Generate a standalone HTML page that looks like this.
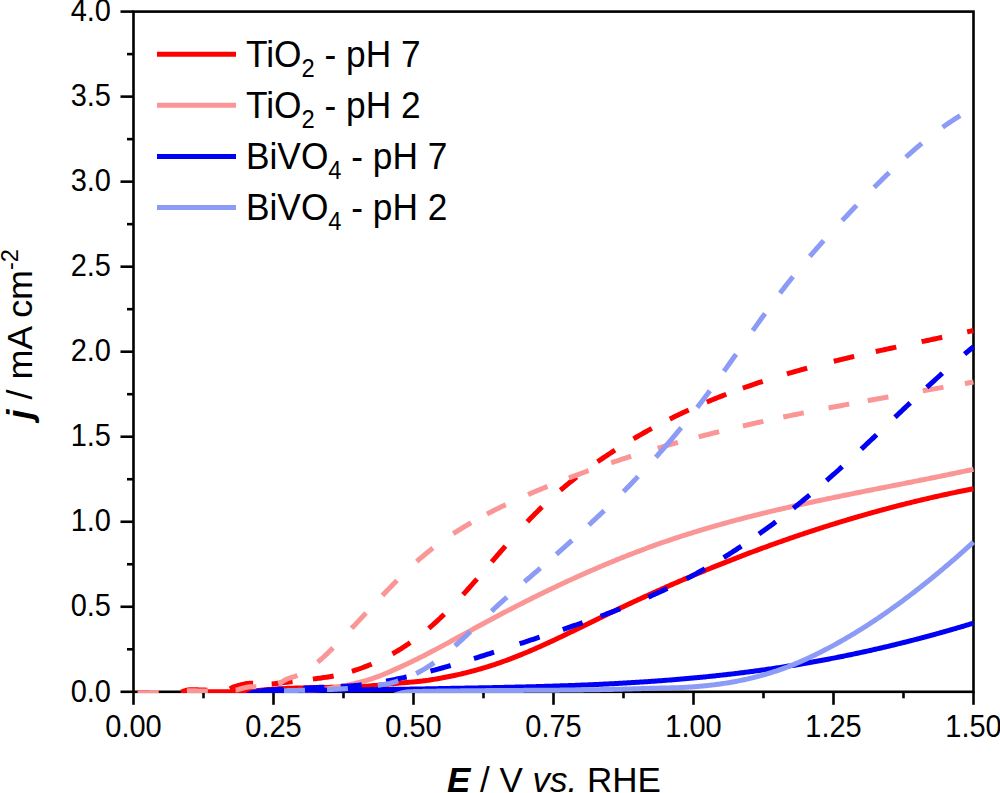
<!DOCTYPE html>
<html><head><meta charset="utf-8"><style>
html,body{margin:0;padding:0;background:#fff;width:1000px;height:793px;overflow:hidden}
svg{display:block;font-family:"Liberation Sans",sans-serif}
</style></head><body>
<svg width="1000" height="793" viewBox="0 0 1000 793">
<rect x="133.5" y="11.6" width="840.0" height="680.1999999999999" fill="none" stroke="#000" stroke-width="2.6"/>
<line x1="120.5" y1="691.80" x2="133.5" y2="691.80" stroke="#000" stroke-width="2.6"/>
<line x1="127.0" y1="649.29" x2="133.5" y2="649.29" stroke="#000" stroke-width="2.6"/>
<line x1="120.5" y1="606.77" x2="133.5" y2="606.77" stroke="#000" stroke-width="2.6"/>
<line x1="127.0" y1="564.26" x2="133.5" y2="564.26" stroke="#000" stroke-width="2.6"/>
<line x1="120.5" y1="521.75" x2="133.5" y2="521.75" stroke="#000" stroke-width="2.6"/>
<line x1="127.0" y1="479.24" x2="133.5" y2="479.24" stroke="#000" stroke-width="2.6"/>
<line x1="120.5" y1="436.72" x2="133.5" y2="436.72" stroke="#000" stroke-width="2.6"/>
<line x1="127.0" y1="394.21" x2="133.5" y2="394.21" stroke="#000" stroke-width="2.6"/>
<line x1="120.5" y1="351.70" x2="133.5" y2="351.70" stroke="#000" stroke-width="2.6"/>
<line x1="127.0" y1="309.19" x2="133.5" y2="309.19" stroke="#000" stroke-width="2.6"/>
<line x1="120.5" y1="266.68" x2="133.5" y2="266.68" stroke="#000" stroke-width="2.6"/>
<line x1="127.0" y1="224.16" x2="133.5" y2="224.16" stroke="#000" stroke-width="2.6"/>
<line x1="120.5" y1="181.65" x2="133.5" y2="181.65" stroke="#000" stroke-width="2.6"/>
<line x1="127.0" y1="139.14" x2="133.5" y2="139.14" stroke="#000" stroke-width="2.6"/>
<line x1="120.5" y1="96.62" x2="133.5" y2="96.62" stroke="#000" stroke-width="2.6"/>
<line x1="127.0" y1="54.11" x2="133.5" y2="54.11" stroke="#000" stroke-width="2.6"/>
<line x1="120.5" y1="11.60" x2="133.5" y2="11.60" stroke="#000" stroke-width="2.6"/>
<line x1="133.50" y1="691.8" x2="133.50" y2="704.8" stroke="#000" stroke-width="2.6"/>
<line x1="203.50" y1="691.8" x2="203.50" y2="698.3" stroke="#000" stroke-width="2.6"/>
<line x1="273.50" y1="691.8" x2="273.50" y2="704.8" stroke="#000" stroke-width="2.6"/>
<line x1="343.50" y1="691.8" x2="343.50" y2="698.3" stroke="#000" stroke-width="2.6"/>
<line x1="413.50" y1="691.8" x2="413.50" y2="704.8" stroke="#000" stroke-width="2.6"/>
<line x1="483.50" y1="691.8" x2="483.50" y2="698.3" stroke="#000" stroke-width="2.6"/>
<line x1="553.50" y1="691.8" x2="553.50" y2="704.8" stroke="#000" stroke-width="2.6"/>
<line x1="623.50" y1="691.8" x2="623.50" y2="698.3" stroke="#000" stroke-width="2.6"/>
<line x1="693.50" y1="691.8" x2="693.50" y2="704.8" stroke="#000" stroke-width="2.6"/>
<line x1="763.50" y1="691.8" x2="763.50" y2="698.3" stroke="#000" stroke-width="2.6"/>
<line x1="833.50" y1="691.8" x2="833.50" y2="704.8" stroke="#000" stroke-width="2.6"/>
<line x1="903.50" y1="691.8" x2="903.50" y2="698.3" stroke="#000" stroke-width="2.6"/>
<line x1="973.50" y1="691.8" x2="973.50" y2="704.8" stroke="#000" stroke-width="2.6"/>
<text transform="translate(111.0 701.50) scale(1 1.075)" text-anchor="end" font-size="29">0.0</text>
<text transform="translate(111.0 616.48) scale(1 1.075)" text-anchor="end" font-size="29">0.5</text>
<text transform="translate(111.0 531.45) scale(1 1.075)" text-anchor="end" font-size="29">1.0</text>
<text transform="translate(111.0 446.42) scale(1 1.075)" text-anchor="end" font-size="29">1.5</text>
<text transform="translate(111.0 361.40) scale(1 1.075)" text-anchor="end" font-size="29">2.0</text>
<text transform="translate(111.0 276.38) scale(1 1.075)" text-anchor="end" font-size="29">2.5</text>
<text transform="translate(111.0 191.35) scale(1 1.075)" text-anchor="end" font-size="29">3.0</text>
<text transform="translate(111.0 106.33) scale(1 1.075)" text-anchor="end" font-size="29">3.5</text>
<text transform="translate(111.0 21.30) scale(1 1.075)" text-anchor="end" font-size="29">4.0</text>
<text transform="translate(133.50 737) scale(1 1.075)" text-anchor="middle" font-size="29">0.00</text>
<text transform="translate(273.50 737) scale(1 1.075)" text-anchor="middle" font-size="29">0.25</text>
<text transform="translate(413.50 737) scale(1 1.075)" text-anchor="middle" font-size="29">0.50</text>
<text transform="translate(553.50 737) scale(1 1.075)" text-anchor="middle" font-size="29">0.75</text>
<text transform="translate(693.50 737) scale(1 1.075)" text-anchor="middle" font-size="29">1.00</text>
<text transform="translate(833.50 737) scale(1 1.075)" text-anchor="middle" font-size="29">1.25</text>
<text transform="translate(973.50 737) scale(1 1.075)" text-anchor="middle" font-size="29">1.50</text>
<clipPath id="cp"><rect x="133.5" y="11.6" width="841.3" height="681.4999999999999"/></clipPath><g clip-path="url(#cp)">
<path d="M207.98 691.80 L209.26 691.80 L210.53 691.80 L211.81 691.80 L213.08 691.79 L214.36 691.79 L215.64 691.79 L216.91 691.78 L218.19 691.77 L219.46 691.77 L220.74 691.76 L222.01 691.75 L223.29 691.74 L224.57 691.73 L225.84 691.72 L227.12 691.71 L228.39 691.70 L229.67 691.68 L230.95 691.67 L232.22 691.65 L233.50 691.64 L234.77 691.62 L236.05 691.61 L237.32 691.59 L238.60 691.57 L239.88 691.55 L241.15 691.53 L242.43 691.51 L243.70 691.49 L244.98 691.47 L246.26 691.44 L247.53 691.40 L248.81 691.34 L250.08 691.26 L251.36 691.17 L252.64 691.06 L253.91 690.95 L255.19 690.83 L256.46 690.70 L257.74 690.56 L259.01 690.43 L260.29 690.29 L261.57 690.16 L262.84 690.03 L264.12 689.91 L265.39 689.79 L266.67 689.68 L267.95 689.59 L269.22 689.50 L270.50 689.40 L271.77 689.31 L273.05 689.22 L274.33 689.13 L275.60 689.04 L276.88 688.95 L278.15 688.87 L279.43 688.78 L280.70 688.70 L281.98 688.63 L283.26 688.55 L284.53 688.48 L285.81 688.42 L287.08 688.36 L288.36 688.30 L289.64 688.25 L290.91 688.21 L292.19 688.17 L293.46 688.13 L294.74 688.09 L296.01 688.06 L297.29 688.02 L298.57 687.99 L299.84 687.96 L301.12 687.93 L302.39 687.91 L303.67 687.88 L304.95 687.85 L306.22 687.83 L307.50 687.80 L308.77 687.78 L310.05 687.76 L311.33 687.73 L312.60 687.71 L313.88 687.69 L315.15 687.67 L316.43 687.64 L317.70 687.62 L318.98 687.60 L320.26 687.57 L321.53 687.55 L322.81 687.52 L324.08 687.50 L325.36 687.47 L326.64 687.44 L327.91 687.42 L329.19 687.39 L330.46 687.36 L331.74 687.33 L333.01 687.30 L334.29 687.27 L335.57 687.24 L336.84 687.21 L338.12 687.18 L339.39 687.16 L340.67 687.13 L341.95 687.10 L343.22 687.07 L344.50 687.04 L345.77 687.01 L347.05 686.98 L348.33 686.95 L349.60 686.91 L350.88 686.88 L352.15 686.84 L353.43 686.80 L354.70 686.76 L355.98 686.72 L357.26 686.67 L358.53 686.63 L359.81 686.58 L361.08 686.53 L362.36 686.47 L363.64 686.40 L364.91 686.32 L366.19 686.24 L367.46 686.15 L368.74 686.05 L370.02 685.95 L371.29 685.84 L372.57 685.72 L373.84 685.61 L375.12 685.49 L376.39 685.37 L377.67 685.25 L378.95 685.12 L380.22 685.00 L381.50 684.88 L382.77 684.76 L384.05 684.63 L385.33 684.51 L386.60 684.38 L387.88 684.25 L389.15 684.12 L390.43 683.99 L391.70 683.86 L392.98 683.73 L394.26 683.60 L395.53 683.48 L396.81 683.35 L398.08 683.23 L399.36 683.11 L400.64 683.00 L401.91 682.88 L403.19 682.77 L404.46 682.66 L405.74 682.55 L407.02 682.45 L408.29 682.34 L409.57 682.23 L410.84 682.12 L412.12 682.01 L413.39 681.90 L414.67 681.78 L415.95 681.66 L417.22 681.54 L418.50 681.41 L419.77 681.28 L421.05 681.14 L422.33 681.00 L423.60 680.85 L424.88 680.70 L426.15 680.53 L427.43 680.36 L428.70 680.18 L429.98 679.99 L431.26 679.79 L432.53 679.58 L433.81 679.38 L435.08 679.16 L436.36 678.95 L437.64 678.73 L438.91 678.50 L440.19 678.27 L441.46 678.04 L442.74 677.81 L444.02 677.57 L445.29 677.32 L446.57 677.07 L447.84 676.82 L449.12 676.56 L450.39 676.30 L451.67 676.04 L452.95 675.77 L454.22 675.49 L455.50 675.22 L456.77 674.93 L458.05 674.65 L459.33 674.36 L460.60 674.06 L461.88 673.76 L463.15 673.46 L464.43 673.15 L465.71 672.83 L466.98 672.52 L468.26 672.19 L469.53 671.87 L470.81 671.53 L472.08 671.20 L473.36 670.86 L474.64 670.51 L475.91 670.16 L477.19 669.81 L478.46 669.45 L479.74 669.08 L481.02 668.72 L482.29 668.34 L483.57 667.96 L484.84 667.58 L486.12 667.19 L487.39 666.80 L488.67 666.40 L489.95 666.00 L491.22 665.59 L492.50 665.18 L493.77 664.76 L495.05 664.34 L496.33 663.91 L497.60 663.48 L498.88 663.04 L500.15 662.59 L501.43 662.15 L502.71 661.69 L503.98 661.23 L505.26 660.77 L506.53 660.30 L507.81 659.83 L509.08 659.35 L510.36 658.87 L511.64 658.38 L512.91 657.89 L514.19 657.40 L515.46 656.90 L516.74 656.39 L518.02 655.89 L519.29 655.37 L520.57 654.86 L521.84 654.34 L523.12 653.81 L524.39 653.29 L525.67 652.75 L526.95 652.22 L528.22 651.68 L529.50 651.14 L530.77 650.59 L532.05 650.04 L533.33 649.49 L534.60 648.93 L535.88 648.37 L537.15 647.81 L538.43 647.25 L539.71 646.68 L540.98 646.11 L542.26 645.54 L543.53 644.96 L544.81 644.38 L546.08 643.80 L547.36 643.22 L548.64 642.63 L549.91 642.04 L551.19 641.45 L552.46 640.86 L553.74 640.26 L555.02 639.66 L556.29 639.06 L557.57 638.46 L558.84 637.86 L560.12 637.26 L561.40 636.65 L562.67 636.04 L563.95 635.43 L565.22 634.82 L566.50 634.21 L567.77 633.59 L569.05 632.98 L570.33 632.36 L571.60 631.75 L572.88 631.13 L574.15 630.51 L575.43 629.89 L576.71 629.27 L577.98 628.65 L579.26 628.02 L580.53 627.40 L581.81 626.78 L583.08 626.15 L584.36 625.53 L585.64 624.90 L586.91 624.28 L588.19 623.65 L589.46 623.03 L590.74 622.40 L592.02 621.78 L593.29 621.16 L594.57 620.53 L595.84 619.91 L597.12 619.28 L598.40 618.66 L599.67 618.04 L600.95 617.41 L602.22 616.79 L603.50 616.17 L604.77 615.55 L606.05 614.93 L607.33 614.31 L608.60 613.70 L609.88 613.08 L611.15 612.47 L612.43 611.85 L613.71 611.24 L614.98 610.63 L616.26 610.02 L617.53 609.41 L618.81 608.80 L620.08 608.20 L621.36 607.59 L622.64 606.99 L623.91 606.38 L625.19 605.78 L626.46 605.18 L627.74 604.58 L629.02 603.98 L630.29 603.39 L631.57 602.79 L632.84 602.19 L634.12 601.60 L635.40 601.01 L636.67 600.42 L637.95 599.83 L639.22 599.24 L640.50 598.65 L641.77 598.07 L643.05 597.48 L644.33 596.90 L645.60 596.31 L646.88 595.73 L648.15 595.15 L649.43 594.57 L650.71 593.99 L651.98 593.42 L653.26 592.84 L654.53 592.27 L655.81 591.70 L657.09 591.12 L658.36 590.55 L659.64 589.98 L660.91 589.42 L662.19 588.85 L663.46 588.28 L664.74 587.72 L666.02 587.15 L667.29 586.59 L668.57 586.03 L669.84 585.47 L671.12 584.91 L672.40 584.36 L673.67 583.80 L674.95 583.25 L676.22 582.69 L677.50 582.14 L678.77 581.59 L680.05 581.04 L681.33 580.49 L682.60 579.94 L683.88 579.40 L685.15 578.85 L686.43 578.31 L687.71 577.77 L688.98 577.22 L690.26 576.68 L691.53 576.15 L692.81 575.61 L694.09 575.07 L695.36 574.54 L696.64 574.00 L697.91 573.47 L699.19 572.94 L700.46 572.41 L701.74 571.88 L703.02 571.35 L704.29 570.82 L705.57 570.30 L706.84 569.78 L708.12 569.25 L709.40 568.73 L710.67 568.21 L711.95 567.69 L713.22 567.17 L714.50 566.66 L715.77 566.14 L717.05 565.63 L718.33 565.12 L719.60 564.60 L720.88 564.09 L722.15 563.58 L723.43 563.08 L724.71 562.57 L725.98 562.07 L727.26 561.56 L728.53 561.06 L729.81 560.56 L731.09 560.06 L732.36 559.56 L733.64 559.06 L734.91 558.56 L736.19 558.07 L737.46 557.57 L738.74 557.08 L740.02 556.59 L741.29 556.10 L742.57 555.61 L743.84 555.12 L745.12 554.64 L746.40 554.15 L747.67 553.67 L748.95 553.19 L750.22 552.70 L751.50 552.22 L752.78 551.75 L754.05 551.27 L755.33 550.79 L756.60 550.32 L757.88 549.84 L759.15 549.37 L760.43 548.90 L761.71 548.43 L762.98 547.96 L764.26 547.49 L765.53 547.03 L766.81 546.56 L768.09 546.10 L769.36 545.64 L770.64 545.18 L771.91 544.72 L773.19 544.26 L774.46 543.80 L775.74 543.35 L777.02 542.89 L778.29 542.44 L779.57 541.99 L780.84 541.54 L782.12 541.09 L783.40 540.64 L784.67 540.19 L785.95 539.75 L787.22 539.30 L788.50 538.86 L789.78 538.42 L791.05 537.98 L792.33 537.54 L793.60 537.10 L794.88 536.67 L796.15 536.23 L797.43 535.80 L798.71 535.36 L799.98 534.93 L801.26 534.50 L802.53 534.07 L803.81 533.65 L805.09 533.22 L806.36 532.80 L807.64 532.37 L808.91 531.95 L810.19 531.53 L811.46 531.11 L812.74 530.69 L814.02 530.28 L815.29 529.86 L816.57 529.45 L817.84 529.03 L819.12 528.62 L820.40 528.21 L821.67 527.80 L822.95 527.40 L824.22 526.99 L825.50 526.58 L826.78 526.18 L828.05 525.78 L829.33 525.38 L830.60 524.98 L831.88 524.58 L833.15 524.18 L834.43 523.79 L835.71 523.39 L836.98 523.00 L838.26 522.61 L839.53 522.22 L840.81 521.83 L842.09 521.44 L843.36 521.05 L844.64 520.67 L845.91 520.28 L847.19 519.90 L848.47 519.52 L849.74 519.14 L851.02 518.76 L852.29 518.38 L853.57 518.01 L854.84 517.63 L856.12 517.26 L857.40 516.89 L858.67 516.52 L859.95 516.15 L861.22 515.78 L862.50 515.42 L863.78 515.05 L865.05 514.69 L866.33 514.32 L867.60 513.96 L868.88 513.60 L870.15 513.24 L871.43 512.89 L872.71 512.53 L873.98 512.18 L875.26 511.82 L876.53 511.47 L877.81 511.12 L879.09 510.77 L880.36 510.43 L881.64 510.08 L882.91 509.73 L884.19 509.39 L885.47 509.05 L886.74 508.71 L888.02 508.37 L889.29 508.03 L890.57 507.69 L891.84 507.36 L893.12 507.02 L894.40 506.69 L895.67 506.36 L896.95 506.03 L898.22 505.70 L899.50 505.37 L900.78 505.05 L902.05 504.72 L903.33 504.40 L904.60 504.08 L905.88 503.76 L907.15 503.44 L908.43 503.12 L909.71 502.81 L910.98 502.49 L912.26 502.18 L913.53 501.86 L914.81 501.55 L916.09 501.24 L917.36 500.94 L918.64 500.63 L919.91 500.32 L921.19 500.02 L922.47 499.72 L923.74 499.42 L925.02 499.12 L926.29 498.82 L927.57 498.52 L928.84 498.22 L930.12 497.93 L931.40 497.64 L932.67 497.35 L933.95 497.06 L935.22 496.77 L936.50 496.48 L937.78 496.19 L939.05 495.91 L940.33 495.63 L941.60 495.34 L942.88 495.06 L944.16 494.78 L945.43 494.51 L946.71 494.23 L947.98 493.96 L949.26 493.68 L950.53 493.41 L951.81 493.14 L953.09 492.87 L954.36 492.60 L955.64 492.34 L956.91 492.07 L958.19 491.81 L959.47 491.54 L960.74 491.28 L962.02 491.02 L963.29 490.77 L964.57 490.51 L965.84 490.25 L967.12 490.00 L968.40 489.75 L969.67 489.50 L970.95 489.25 L972.22 489.00 L973.50 488.75" fill="none" stroke="#ff0000" stroke-width="5"/>
<path d="M133.50 696.90 L134.90 696.90 L136.30 696.90 L137.70 696.90 L139.10 696.90 L140.50 696.90 L141.90 696.90 L143.30 696.90 L144.70 696.90 L146.10 696.90 L147.50 696.90 L148.90 696.90 L150.30 696.90 L151.70 696.90 L153.10 696.90 L154.50 696.90 L155.90 696.90 L157.30 696.90 L158.70 696.90 L160.10 696.90 L161.50 696.90 L162.90 696.90 L164.30 696.90 L165.70 696.90 L167.10 696.90 L168.50 696.90 L169.90 696.90 L171.30 696.90 L172.70 696.90 L174.10 696.90 L175.50 696.90 L176.90 696.90 L178.30 696.90 L179.70 696.90 L181.10 696.90 L182.50 696.90 L183.90 696.90 L185.30 696.90 L186.70 696.90 L188.10 696.90 L189.50 696.90 L190.90 696.90 L192.30 696.90 L193.70 696.90 L195.10 696.90 L196.50 696.90 L197.90 696.90 L199.30 696.90 L200.70 696.90 L202.10 696.90 L203.50 696.90 L204.90 696.90 L206.30 696.90 L207.70 696.90 L209.10 696.90 L210.50 696.90 L211.90 696.90 L213.30 696.90 L214.70 696.90 L216.10 696.90 L217.50 696.90 L218.90 696.90 L220.30 696.90 L221.70 696.90 L223.10 696.90 L224.50 696.90 L225.90 696.90 L227.30 696.90 L228.70 696.90 L230.10 696.90 L231.50 696.90 L232.90 696.90 L234.30 696.90 L235.70 696.90 L237.10 696.90 L238.50 696.90 L239.90 696.90 L241.30 696.90 L242.70 696.90 L244.10 696.90 L245.50 696.90 L246.90 696.90 L248.30 696.90 L249.70 696.90 L251.10 696.90 L252.50 696.90 L253.90 696.90 L255.30 696.90 L256.70 696.90 L258.10 696.90 L259.50 696.90 L260.90 696.90 L262.30 696.90 L263.70 696.90 L265.10 696.90 L266.50 696.90 L267.90 696.90 L269.30 696.90 L270.70 696.90 L272.10 696.90 L273.50 696.90 L274.90 696.87 L276.30 696.80 L277.70 696.67 L279.10 696.50 L280.50 696.30 L281.90 696.06 L283.30 695.79 L284.70 695.50 L286.10 695.19 L287.50 694.86 L288.90 694.52 L290.30 694.18 L291.70 693.84 L293.10 693.50 L294.50 693.17 L295.90 692.85 L297.30 692.55 L298.70 692.27 L300.10 692.02 L301.50 691.80 L302.90 691.60 L304.30 691.41 L305.70 691.23 L307.10 691.06 L308.50 690.89 L309.90 690.73 L311.30 690.57 L312.70 690.42 L314.10 690.26 L315.50 690.11 L316.90 689.96 L318.30 689.81 L319.70 689.65 L321.10 689.49 L322.50 689.33 L323.90 689.16 L325.30 688.98 L326.70 688.80 L328.10 688.60 L329.50 688.40 L330.90 688.19 L332.30 687.97 L333.70 687.74 L335.10 687.51 L336.50 687.27 L337.90 687.02 L339.30 686.77 L340.70 686.51 L342.10 686.24 L343.50 685.97 L344.90 685.69 L346.30 685.40 L347.70 685.11 L349.10 684.81 L350.50 684.51 L351.90 684.19 L353.30 683.87 L354.70 683.55 L356.10 683.21 L357.50 682.87 L358.90 682.51 L360.30 682.14 L361.70 681.77 L363.10 681.38 L364.50 680.98 L365.90 680.57 L367.30 680.15 L368.70 679.72 L370.10 679.27 L371.50 678.82 L372.90 678.35 L374.30 677.86 L375.70 677.37 L377.10 676.86 L378.50 676.34 L379.90 675.81 L381.30 675.27 L382.70 674.71 L384.10 674.14 L385.50 673.56 L386.90 672.97 L388.30 672.37 L389.70 671.76 L391.10 671.14 L392.50 670.52 L393.90 669.90 L395.30 669.28 L396.70 668.65 L398.10 668.02 L399.50 667.38 L400.90 666.75 L402.30 666.11 L403.70 665.46 L405.10 664.81 L406.50 664.16 L407.90 663.50 L409.30 662.83 L410.70 662.16 L412.10 661.48 L413.50 660.80 L414.90 660.11 L416.30 659.42 L417.70 658.73 L419.10 658.03 L420.50 657.33 L421.90 656.62 L423.30 655.91 L424.70 655.19 L426.10 654.47 L427.50 653.75 L428.90 653.03 L430.30 652.30 L431.70 651.57 L433.10 650.83 L434.50 650.09 L435.90 649.35 L437.30 648.61 L438.70 647.87 L440.10 647.12 L441.50 646.37 L442.90 645.62 L444.30 644.86 L445.70 644.11 L447.10 643.35 L448.50 642.59 L449.90 641.83 L451.30 641.07 L452.70 640.30 L454.10 639.54 L455.50 638.77 L456.90 638.01 L458.30 637.24 L459.70 636.48 L461.10 635.71 L462.50 634.94 L463.90 634.17 L465.30 633.41 L466.70 632.64 L468.10 631.87 L469.50 631.10 L470.90 630.34 L472.30 629.57 L473.70 628.81 L475.10 628.04 L476.50 627.28 L477.90 626.52 L479.30 625.76 L480.70 625.00 L482.10 624.24 L483.50 623.49 L484.90 622.73 L486.30 621.98 L487.70 621.23 L489.10 620.48 L490.50 619.73 L491.90 618.98 L493.30 618.24 L494.70 617.49 L496.10 616.75 L497.50 616.01 L498.90 615.27 L500.30 614.54 L501.70 613.80 L503.10 613.07 L504.50 612.33 L505.90 611.60 L507.30 610.87 L508.70 610.15 L510.10 609.42 L511.50 608.70 L512.90 607.98 L514.30 607.26 L515.70 606.54 L517.10 605.82 L518.50 605.11 L519.90 604.39 L521.30 603.68 L522.70 602.97 L524.10 602.26 L525.50 601.56 L526.90 600.85 L528.30 600.15 L529.70 599.45 L531.10 598.75 L532.50 598.05 L533.90 597.36 L535.30 596.66 L536.70 595.97 L538.10 595.28 L539.50 594.59 L540.90 593.91 L542.30 593.22 L543.70 592.54 L545.10 591.86 L546.50 591.18 L547.90 590.51 L549.30 589.83 L550.70 589.16 L552.10 588.49 L553.50 587.82 L554.90 587.15 L556.30 586.49 L557.70 585.82 L559.10 585.16 L560.50 584.51 L561.90 583.85 L563.30 583.19 L564.70 582.54 L566.10 581.89 L567.50 581.24 L568.90 580.60 L570.30 579.95 L571.70 579.31 L573.10 578.67 L574.50 578.03 L575.90 577.40 L577.30 576.76 L578.70 576.13 L580.10 575.50 L581.50 574.87 L582.90 574.25 L584.30 573.63 L585.70 573.00 L587.10 572.39 L588.50 571.77 L589.90 571.16 L591.30 570.54 L592.70 569.93 L594.10 569.33 L595.50 568.72 L596.90 568.12 L598.30 567.52 L599.70 566.92 L601.10 566.32 L602.50 565.73 L603.90 565.14 L605.30 564.55 L606.70 563.96 L608.10 563.37 L609.50 562.79 L610.90 562.21 L612.30 561.63 L613.70 561.06 L615.10 560.49 L616.50 559.92 L617.90 559.35 L619.30 558.78 L620.70 558.22 L622.10 557.66 L623.50 557.10 L624.90 556.54 L626.30 555.99 L627.70 555.44 L629.10 554.89 L630.50 554.34 L631.90 553.80 L633.30 553.26 L634.70 552.72 L636.10 552.18 L637.50 551.65 L638.90 551.12 L640.30 550.59 L641.70 550.06 L643.10 549.54 L644.50 549.02 L645.90 548.50 L647.30 547.98 L648.70 547.47 L650.10 546.96 L651.50 546.45 L652.90 545.95 L654.30 545.44 L655.70 544.94 L657.10 544.45 L658.50 543.95 L659.90 543.46 L661.30 542.97 L662.70 542.48 L664.10 542.00 L665.50 541.51 L666.90 541.04 L668.30 540.56 L669.70 540.08 L671.10 539.61 L672.50 539.14 L673.90 538.68 L675.30 538.21 L676.70 537.75 L678.10 537.29 L679.50 536.83 L680.90 536.38 L682.30 535.92 L683.70 535.47 L685.10 535.03 L686.50 534.58 L687.90 534.14 L689.30 533.70 L690.70 533.26 L692.10 532.82 L693.50 532.39 L694.90 531.95 L696.30 531.52 L697.70 531.10 L699.10 530.67 L700.50 530.25 L701.90 529.83 L703.30 529.41 L704.70 528.99 L706.10 528.58 L707.50 528.16 L708.90 527.75 L710.30 527.35 L711.70 526.94 L713.10 526.53 L714.50 526.13 L715.90 525.73 L717.30 525.33 L718.70 524.94 L720.10 524.54 L721.50 524.15 L722.90 523.76 L724.30 523.37 L725.70 522.98 L727.10 522.60 L728.50 522.21 L729.90 521.83 L731.30 521.45 L732.70 521.07 L734.10 520.70 L735.50 520.32 L736.90 519.95 L738.30 519.58 L739.70 519.21 L741.10 518.84 L742.50 518.48 L743.90 518.11 L745.30 517.75 L746.70 517.39 L748.10 517.03 L749.50 516.67 L750.90 516.32 L752.30 515.96 L753.70 515.61 L755.10 515.26 L756.50 514.91 L757.90 514.56 L759.30 514.22 L760.70 513.87 L762.10 513.53 L763.50 513.18 L764.90 512.84 L766.30 512.50 L767.70 512.17 L769.10 511.83 L770.50 511.49 L771.90 511.16 L773.30 510.83 L774.70 510.50 L776.10 510.17 L777.50 509.84 L778.90 509.51 L780.30 509.19 L781.70 508.86 L783.10 508.54 L784.50 508.21 L785.90 507.89 L787.30 507.57 L788.70 507.25 L790.10 506.94 L791.50 506.62 L792.90 506.31 L794.30 505.99 L795.70 505.68 L797.10 505.37 L798.50 505.05 L799.90 504.74 L801.30 504.44 L802.70 504.13 L804.10 503.82 L805.50 503.52 L806.90 503.21 L808.30 502.91 L809.70 502.60 L811.10 502.30 L812.50 502.00 L813.90 501.70 L815.30 501.40 L816.70 501.10 L818.10 500.80 L819.50 500.51 L820.90 500.21 L822.30 499.91 L823.70 499.62 L825.10 499.33 L826.50 499.03 L827.90 498.74 L829.30 498.45 L830.70 498.16 L832.10 497.87 L833.50 497.58 L834.90 497.29 L836.30 497.00 L837.70 496.71 L839.10 496.43 L840.50 496.14 L841.90 495.85 L843.30 495.57 L844.70 495.28 L846.10 495.00 L847.50 494.72 L848.90 494.43 L850.30 494.15 L851.70 493.87 L853.10 493.59 L854.50 493.30 L855.90 493.02 L857.30 492.74 L858.70 492.46 L860.10 492.18 L861.50 491.90 L862.90 491.62 L864.30 491.34 L865.70 491.07 L867.10 490.79 L868.50 490.51 L869.90 490.23 L871.30 489.95 L872.70 489.68 L874.10 489.40 L875.50 489.12 L876.90 488.85 L878.30 488.57 L879.70 488.29 L881.10 488.02 L882.50 487.74 L883.90 487.46 L885.30 487.19 L886.70 486.91 L888.10 486.64 L889.50 486.36 L890.90 486.09 L892.30 485.81 L893.70 485.53 L895.10 485.26 L896.50 484.98 L897.90 484.71 L899.30 484.43 L900.70 484.15 L902.10 483.88 L903.50 483.60 L904.90 483.33 L906.30 483.05 L907.70 482.77 L909.10 482.50 L910.50 482.22 L911.90 481.94 L913.30 481.66 L914.70 481.39 L916.10 481.11 L917.50 480.83 L918.90 480.55 L920.30 480.27 L921.70 479.99 L923.10 479.71 L924.50 479.43 L925.90 479.15 L927.30 478.87 L928.70 478.59 L930.10 478.31 L931.50 478.03 L932.90 477.74 L934.30 477.46 L935.70 477.18 L937.10 476.89 L938.50 476.61 L939.90 476.33 L941.30 476.04 L942.70 475.75 L944.10 475.47 L945.50 475.18 L946.90 474.89 L948.30 474.60 L949.70 474.31 L951.10 474.03 L952.50 473.73 L953.90 473.44 L955.30 473.15 L956.70 472.86 L958.10 472.57 L959.50 472.27 L960.90 471.98 L962.30 471.68 L963.70 471.39 L965.10 471.09 L966.50 470.79 L967.90 470.49 L969.30 470.19 L970.70 469.89 L972.10 469.59 L973.50 469.29" fill="none" stroke="#fa9696" stroke-width="5"/>
<path d="M133.50 696.90 L134.90 696.90 L136.30 696.90 L137.70 696.90 L139.10 696.90 L140.50 696.90 L141.90 696.90 L143.30 696.90 L144.70 696.90 L146.10 696.90 L147.50 696.90 L148.90 696.90 L150.30 696.90 L151.70 696.90 L153.10 696.90 L154.50 696.90 L155.90 696.90 L157.30 696.90 L158.70 696.90 L160.10 696.90 L161.50 696.90 L162.90 696.90 L164.30 696.90 L165.70 696.90 L167.10 696.90 L168.50 696.90 L169.90 696.90 L171.30 696.90 L172.70 696.90 L174.10 696.90 L175.50 696.90 L176.90 696.90 L178.30 696.90 L179.70 696.90 L181.10 696.90 L182.50 696.90 L183.90 696.90 L185.30 696.90 L186.70 696.90 L188.10 696.90 L189.50 696.90 L190.90 696.90 L192.30 696.90 L193.70 696.90 L195.10 696.90 L196.50 696.90 L197.90 696.90 L199.30 696.90 L200.70 696.90 L202.10 696.90 L203.50 696.90 L204.90 696.90 L206.30 696.90 L207.70 696.90 L209.10 696.90 L210.50 696.90 L211.90 696.90 L213.30 696.90 L214.70 696.90 L216.10 696.90 L217.50 696.90 L218.90 696.90 L220.30 696.90 L221.70 696.90 L223.10 696.90 L224.50 696.90 L225.90 696.90 L227.30 696.90 L228.70 696.90 L230.10 696.90 L231.50 696.90 L232.90 696.90 L234.30 696.90 L235.70 696.90 L237.10 696.90 L238.50 696.90 L239.90 696.90 L241.30 696.81 L242.70 696.54 L244.10 696.13 L245.50 695.61 L246.90 695.01 L248.30 694.36 L249.70 693.70 L251.10 693.05 L252.50 692.45 L253.90 691.92 L255.30 691.50 L256.70 691.22 L258.10 691.11 L259.50 691.06 L260.90 691.01 L262.30 690.98 L263.70 690.94 L265.10 690.92 L266.50 690.89 L267.90 690.87 L269.30 690.84 L270.70 690.82 L272.10 690.80 L273.50 690.78 L274.90 690.76 L276.30 690.73 L277.70 690.71 L279.10 690.69 L280.50 690.67 L281.90 690.64 L283.30 690.62 L284.70 690.60 L286.10 690.58 L287.50 690.56 L288.90 690.54 L290.30 690.52 L291.70 690.50 L293.10 690.48 L294.50 690.46 L295.90 690.44 L297.30 690.42 L298.70 690.41 L300.10 690.39 L301.50 690.37 L302.90 690.35 L304.30 690.33 L305.70 690.32 L307.10 690.30 L308.50 690.28 L309.90 690.27 L311.30 690.25 L312.70 690.23 L314.10 690.22 L315.50 690.20 L316.90 690.18 L318.30 690.17 L319.70 690.15 L321.10 690.14 L322.50 690.12 L323.90 690.11 L325.30 690.09 L326.70 690.08 L328.10 690.06 L329.50 690.05 L330.90 690.03 L332.30 690.02 L333.70 690.00 L335.10 689.99 L336.50 689.97 L337.90 689.96 L339.30 689.94 L340.70 689.93 L342.10 689.91 L343.50 689.90 L344.90 689.89 L346.30 689.87 L347.70 689.86 L349.10 689.84 L350.50 689.83 L351.90 689.81 L353.30 689.80 L354.70 689.79 L356.10 689.77 L357.50 689.76 L358.90 689.74 L360.30 689.73 L361.70 689.71 L363.10 689.70 L364.50 689.68 L365.90 689.67 L367.30 689.66 L368.70 689.64 L370.10 689.63 L371.50 689.61 L372.90 689.60 L374.30 689.58 L375.70 689.56 L377.10 689.55 L378.50 689.53 L379.90 689.52 L381.30 689.50 L382.70 689.49 L384.10 689.47 L385.50 689.45 L386.90 689.44 L388.30 689.42 L389.70 689.40 L391.10 689.38 L392.50 689.37 L393.90 689.35 L395.30 689.33 L396.70 689.31 L398.10 689.30 L399.50 689.28 L400.90 689.26 L402.30 689.24 L403.70 689.22 L405.10 689.20 L406.50 689.18 L407.90 689.16 L409.30 689.14 L410.70 689.12 L412.10 689.10 L413.50 689.08 L414.90 689.06 L416.30 689.04 L417.70 689.01 L419.10 688.99 L420.50 688.97 L421.90 688.94 L423.30 688.92 L424.70 688.89 L426.10 688.86 L427.50 688.84 L428.90 688.81 L430.30 688.78 L431.70 688.76 L433.10 688.73 L434.50 688.70 L435.90 688.67 L437.30 688.64 L438.70 688.61 L440.10 688.59 L441.50 688.56 L442.90 688.53 L444.30 688.50 L445.70 688.47 L447.10 688.44 L448.50 688.42 L449.90 688.39 L451.30 688.36 L452.70 688.34 L454.10 688.31 L455.50 688.29 L456.90 688.26 L458.30 688.24 L459.70 688.21 L461.10 688.19 L462.50 688.17 L463.90 688.14 L465.30 688.12 L466.70 688.09 L468.10 688.07 L469.50 688.04 L470.90 688.02 L472.30 687.99 L473.70 687.97 L475.10 687.94 L476.50 687.92 L477.90 687.89 L479.30 687.87 L480.70 687.84 L482.10 687.81 L483.50 687.79 L484.90 687.76 L486.30 687.74 L487.70 687.71 L489.10 687.68 L490.50 687.65 L491.90 687.63 L493.30 687.60 L494.70 687.57 L496.10 687.54 L497.50 687.52 L498.90 687.49 L500.30 687.46 L501.70 687.43 L503.10 687.40 L504.50 687.37 L505.90 687.34 L507.30 687.31 L508.70 687.28 L510.10 687.25 L511.50 687.22 L512.90 687.18 L514.30 687.15 L515.70 687.12 L517.10 687.09 L518.50 687.06 L519.90 687.02 L521.30 686.99 L522.70 686.95 L524.10 686.92 L525.50 686.88 L526.90 686.85 L528.30 686.81 L529.70 686.78 L531.10 686.74 L532.50 686.71 L533.90 686.67 L535.30 686.63 L536.70 686.59 L538.10 686.55 L539.50 686.51 L540.90 686.48 L542.30 686.44 L543.70 686.40 L545.10 686.35 L546.50 686.31 L547.90 686.27 L549.30 686.23 L550.70 686.19 L552.10 686.14 L553.50 686.10 L554.90 686.06 L556.30 686.01 L557.70 685.96 L559.10 685.92 L560.50 685.87 L561.90 685.83 L563.30 685.78 L564.70 685.73 L566.10 685.68 L567.50 685.63 L568.90 685.58 L570.30 685.53 L571.70 685.48 L573.10 685.43 L574.50 685.38 L575.90 685.32 L577.30 685.27 L578.70 685.22 L580.10 685.16 L581.50 685.11 L582.90 685.05 L584.30 684.99 L585.70 684.93 L587.10 684.88 L588.50 684.82 L589.90 684.76 L591.30 684.70 L592.70 684.64 L594.10 684.58 L595.50 684.51 L596.90 684.45 L598.30 684.39 L599.70 684.32 L601.10 684.26 L602.50 684.19 L603.90 684.12 L605.30 684.06 L606.70 683.99 L608.10 683.92 L609.50 683.85 L610.90 683.78 L612.30 683.71 L613.70 683.64 L615.10 683.56 L616.50 683.49 L617.90 683.41 L619.30 683.34 L620.70 683.26 L622.10 683.18 L623.50 683.11 L624.90 683.03 L626.30 682.95 L627.70 682.87 L629.10 682.79 L630.50 682.70 L631.90 682.62 L633.30 682.54 L634.70 682.45 L636.10 682.37 L637.50 682.28 L638.90 682.19 L640.30 682.10 L641.70 682.01 L643.10 681.92 L644.50 681.83 L645.90 681.74 L647.30 681.64 L648.70 681.55 L650.10 681.45 L651.50 681.36 L652.90 681.26 L654.30 681.16 L655.70 681.06 L657.10 680.96 L658.50 680.86 L659.90 680.76 L661.30 680.66 L662.70 680.55 L664.10 680.45 L665.50 680.34 L666.90 680.23 L668.30 680.12 L669.70 680.01 L671.10 679.90 L672.50 679.79 L673.90 679.68 L675.30 679.56 L676.70 679.45 L678.10 679.33 L679.50 679.22 L680.90 679.10 L682.30 678.98 L683.70 678.86 L685.10 678.73 L686.50 678.61 L687.90 678.49 L689.30 678.36 L690.70 678.24 L692.10 678.11 L693.50 677.98 L694.90 677.85 L696.30 677.72 L697.70 677.59 L699.10 677.45 L700.50 677.32 L701.90 677.18 L703.30 677.04 L704.70 676.90 L706.10 676.76 L707.50 676.62 L708.90 676.48 L710.30 676.34 L711.70 676.19 L713.10 676.05 L714.50 675.90 L715.90 675.75 L717.30 675.60 L718.70 675.45 L720.10 675.30 L721.50 675.14 L722.90 674.99 L724.30 674.83 L725.70 674.67 L727.10 674.51 L728.50 674.35 L729.90 674.19 L731.30 674.03 L732.70 673.86 L734.10 673.70 L735.50 673.53 L736.90 673.36 L738.30 673.19 L739.70 673.02 L741.10 672.85 L742.50 672.67 L743.90 672.50 L745.30 672.32 L746.70 672.14 L748.10 671.96 L749.50 671.78 L750.90 671.60 L752.30 671.41 L753.70 671.23 L755.10 671.04 L756.50 670.85 L757.90 670.66 L759.30 670.47 L760.70 670.28 L762.10 670.08 L763.50 669.88 L764.90 669.69 L766.30 669.49 L767.70 669.29 L769.10 669.08 L770.50 668.88 L771.90 668.67 L773.30 668.47 L774.70 668.26 L776.10 668.05 L777.50 667.84 L778.90 667.62 L780.30 667.41 L781.70 667.19 L783.10 666.98 L784.50 666.76 L785.90 666.54 L787.30 666.31 L788.70 666.09 L790.10 665.87 L791.50 665.64 L792.90 665.41 L794.30 665.18 L795.70 664.95 L797.10 664.72 L798.50 664.48 L799.90 664.25 L801.30 664.01 L802.70 663.77 L804.10 663.53 L805.50 663.29 L806.90 663.05 L808.30 662.80 L809.70 662.55 L811.10 662.31 L812.50 662.06 L813.90 661.81 L815.30 661.55 L816.70 661.30 L818.10 661.04 L819.50 660.79 L820.90 660.53 L822.30 660.27 L823.70 660.01 L825.10 659.74 L826.50 659.48 L827.90 659.21 L829.30 658.94 L830.70 658.67 L832.10 658.40 L833.50 658.13 L834.90 657.86 L836.30 657.58 L837.70 657.30 L839.10 657.03 L840.50 656.75 L841.90 656.46 L843.30 656.18 L844.70 655.90 L846.10 655.61 L847.50 655.32 L848.90 655.03 L850.30 654.74 L851.70 654.45 L853.10 654.16 L854.50 653.86 L855.90 653.56 L857.30 653.27 L858.70 652.97 L860.10 652.66 L861.50 652.36 L862.90 652.06 L864.30 651.75 L865.70 651.44 L867.10 651.13 L868.50 650.82 L869.90 650.51 L871.30 650.20 L872.70 649.88 L874.10 649.56 L875.50 649.24 L876.90 648.92 L878.30 648.60 L879.70 648.28 L881.10 647.96 L882.50 647.63 L883.90 647.30 L885.30 646.97 L886.70 646.64 L888.10 646.31 L889.50 645.98 L890.90 645.64 L892.30 645.30 L893.70 644.96 L895.10 644.62 L896.50 644.28 L897.90 643.94 L899.30 643.59 L900.70 643.25 L902.10 642.90 L903.50 642.55 L904.90 642.20 L906.30 641.85 L907.70 641.49 L909.10 641.14 L910.50 640.78 L911.90 640.42 L913.30 640.06 L914.70 639.70 L916.10 639.34 L917.50 638.97 L918.90 638.61 L920.30 638.24 L921.70 637.87 L923.10 637.50 L924.50 637.13 L925.90 636.75 L927.30 636.38 L928.70 636.00 L930.10 635.62 L931.50 635.24 L932.90 634.86 L934.30 634.47 L935.70 634.09 L937.10 633.70 L938.50 633.31 L939.90 632.92 L941.30 632.53 L942.70 632.14 L944.10 631.75 L945.50 631.35 L946.90 630.95 L948.30 630.55 L949.70 630.15 L951.10 629.75 L952.50 629.35 L953.90 628.94 L955.30 628.53 L956.70 628.13 L958.10 627.72 L959.50 627.30 L960.90 626.89 L962.30 626.48 L963.70 626.06 L965.10 625.64 L966.50 625.22 L967.90 624.80 L969.30 624.38 L970.70 623.96 L972.10 623.53 L973.50 623.10" fill="none" stroke="#0000f5" stroke-width="5"/>
<path d="M133.50 696.90 L134.90 696.90 L136.30 696.90 L137.70 696.90 L139.10 696.90 L140.50 696.90 L141.90 696.90 L143.30 696.90 L144.70 696.90 L146.10 696.90 L147.50 696.90 L148.90 696.90 L150.30 696.90 L151.70 696.90 L153.10 696.90 L154.50 696.90 L155.90 696.90 L157.30 696.90 L158.70 696.90 L160.10 696.90 L161.50 696.90 L162.90 696.90 L164.30 696.90 L165.70 696.90 L167.10 696.90 L168.50 696.90 L169.90 696.90 L171.30 696.90 L172.70 696.90 L174.10 696.90 L175.50 696.90 L176.90 696.90 L178.30 696.90 L179.70 696.90 L181.10 696.90 L182.50 696.90 L183.90 696.90 L185.30 696.90 L186.70 696.90 L188.10 696.90 L189.50 696.90 L190.90 696.90 L192.30 696.90 L193.70 696.90 L195.10 696.90 L196.50 696.90 L197.90 696.90 L199.30 696.90 L200.70 696.90 L202.10 696.90 L203.50 696.90 L204.90 696.90 L206.30 696.90 L207.70 696.90 L209.10 696.90 L210.50 696.90 L211.90 696.90 L213.30 696.90 L214.70 696.90 L216.10 696.90 L217.50 696.90 L218.90 696.90 L220.30 696.90 L221.70 696.90 L223.10 696.90 L224.50 696.90 L225.90 696.90 L227.30 696.90 L228.70 696.90 L230.10 696.90 L231.50 696.90 L232.90 696.90 L234.30 696.90 L235.70 696.90 L237.10 696.90 L238.50 696.90 L239.90 696.90 L241.30 696.90 L242.70 696.90 L244.10 696.90 L245.50 696.90 L246.90 696.90 L248.30 696.90 L249.70 696.90 L251.10 696.90 L252.50 696.90 L253.90 696.90 L255.30 696.90 L256.70 696.90 L258.10 696.90 L259.50 696.90 L260.90 696.90 L262.30 696.90 L263.70 696.90 L265.10 696.90 L266.50 696.90 L267.90 696.90 L269.30 696.90 L270.70 696.90 L272.10 696.90 L273.50 696.90 L274.90 696.90 L276.30 696.90 L277.70 696.90 L279.10 696.90 L280.50 696.90 L281.90 696.90 L283.30 696.90 L284.70 696.90 L286.10 696.90 L287.50 696.90 L288.90 696.90 L290.30 696.90 L291.70 696.90 L293.10 696.90 L294.50 696.90 L295.90 696.90 L297.30 696.90 L298.70 696.90 L300.10 696.90 L301.50 696.90 L302.90 696.90 L304.30 696.90 L305.70 696.90 L307.10 696.90 L308.50 696.90 L309.90 696.90 L311.30 696.90 L312.70 696.90 L314.10 696.90 L315.50 696.90 L316.90 696.90 L318.30 696.90 L319.70 696.90 L321.10 696.90 L322.50 696.90 L323.90 696.90 L325.30 696.90 L326.70 696.90 L328.10 696.90 L329.50 696.90 L330.90 696.90 L332.30 696.90 L333.70 696.90 L335.10 696.90 L336.50 696.90 L337.90 696.90 L339.30 696.90 L340.70 696.90 L342.10 696.90 L343.50 696.90 L344.90 696.90 L346.30 696.90 L347.70 696.90 L349.10 696.90 L350.50 696.90 L351.90 696.90 L353.30 696.90 L354.70 696.90 L356.10 696.90 L357.50 696.90 L358.90 696.90 L360.30 696.90 L361.70 696.90 L363.10 696.90 L364.50 696.90 L365.90 696.90 L367.30 696.90 L368.70 696.90 L370.10 696.90 L371.50 696.90 L372.90 696.90 L374.30 696.90 L375.70 696.90 L377.10 696.90 L378.50 696.90 L379.90 696.90 L381.30 696.90 L382.70 696.90 L384.10 696.90 L385.50 696.90 L386.90 696.85 L388.30 696.69 L389.70 696.45 L391.10 696.14 L392.50 695.77 L393.90 695.36 L395.30 694.91 L396.70 694.45 L398.10 693.99 L399.50 693.53 L400.90 693.10 L402.30 692.71 L403.70 692.37 L405.10 692.10 L406.50 691.90 L407.90 691.80 L409.30 691.75 L410.70 691.70 L412.10 691.66 L413.50 691.62 L414.90 691.57 L416.30 691.54 L417.70 691.50 L419.10 691.46 L420.50 691.43 L421.90 691.39 L423.30 691.36 L424.70 691.33 L426.10 691.30 L427.50 691.28 L428.90 691.25 L430.30 691.23 L431.70 691.20 L433.10 691.18 L434.50 691.16 L435.90 691.14 L437.30 691.12 L438.70 691.10 L440.10 691.08 L441.50 691.06 L442.90 691.05 L444.30 691.03 L445.70 691.02 L447.10 691.00 L448.50 690.99 L449.90 690.97 L451.30 690.96 L452.70 690.94 L454.10 690.93 L455.50 690.92 L456.90 690.90 L458.30 690.89 L459.70 690.88 L461.10 690.86 L462.50 690.85 L463.90 690.84 L465.30 690.82 L466.70 690.81 L468.10 690.79 L469.50 690.78 L470.90 690.76 L472.30 690.75 L473.70 690.74 L475.10 690.72 L476.50 690.71 L477.90 690.69 L479.30 690.68 L480.70 690.67 L482.10 690.66 L483.50 690.64 L484.90 690.63 L486.30 690.62 L487.70 690.61 L489.10 690.60 L490.50 690.59 L491.90 690.58 L493.30 690.57 L494.70 690.56 L496.10 690.55 L497.50 690.54 L498.90 690.53 L500.30 690.52 L501.70 690.51 L503.10 690.50 L504.50 690.49 L505.90 690.48 L507.30 690.47 L508.70 690.46 L510.10 690.45 L511.50 690.45 L512.90 690.44 L514.30 690.43 L515.70 690.42 L517.10 690.41 L518.50 690.40 L519.90 690.40 L521.30 690.39 L522.70 690.38 L524.10 690.37 L525.50 690.36 L526.90 690.35 L528.30 690.35 L529.70 690.34 L531.10 690.33 L532.50 690.32 L533.90 690.31 L535.30 690.30 L536.70 690.29 L538.10 690.29 L539.50 690.28 L540.90 690.27 L542.30 690.26 L543.70 690.25 L545.10 690.24 L546.50 690.23 L547.90 690.22 L549.30 690.21 L550.70 690.20 L552.10 690.19 L553.50 690.18 L554.90 690.17 L556.30 690.16 L557.70 690.15 L559.10 690.14 L560.50 690.12 L561.90 690.11 L563.30 690.10 L564.70 690.09 L566.10 690.07 L567.50 690.06 L568.90 690.05 L570.30 690.03 L571.70 690.02 L573.10 690.00 L574.50 689.99 L575.90 689.97 L577.30 689.96 L578.70 689.94 L580.10 689.93 L581.50 689.91 L582.90 689.89 L584.30 689.87 L585.70 689.85 L587.10 689.83 L588.50 689.81 L589.90 689.79 L591.30 689.77 L592.70 689.75 L594.10 689.73 L595.50 689.70 L596.90 689.68 L598.30 689.65 L599.70 689.63 L601.10 689.60 L602.50 689.58 L603.90 689.55 L605.30 689.52 L606.70 689.50 L608.10 689.47 L609.50 689.44 L610.90 689.41 L612.30 689.38 L613.70 689.35 L615.10 689.32 L616.50 689.28 L617.90 689.25 L619.30 689.22 L620.70 689.19 L622.10 689.15 L623.50 689.12 L624.90 689.08 L626.30 689.05 L627.70 689.01 L629.10 688.98 L630.50 688.94 L631.90 688.90 L633.30 688.87 L634.70 688.83 L636.10 688.79 L637.50 688.75 L638.90 688.71 L640.30 688.67 L641.70 688.62 L643.10 688.58 L644.50 688.53 L645.90 688.48 L647.30 688.44 L648.70 688.39 L650.10 688.35 L651.50 688.31 L652.90 688.27 L654.30 688.24 L655.70 688.20 L657.10 688.17 L658.50 688.14 L659.90 688.11 L661.30 688.08 L662.70 688.05 L664.10 688.02 L665.50 687.99 L666.90 687.96 L668.30 687.93 L669.70 687.90 L671.10 687.87 L672.50 687.84 L673.90 687.80 L675.30 687.76 L676.70 687.71 L678.10 687.66 L679.50 687.61 L680.90 687.54 L682.30 687.48 L683.70 687.41 L685.10 687.33 L686.50 687.25 L687.90 687.16 L689.30 687.08 L690.70 686.98 L692.10 686.89 L693.50 686.79 L694.90 686.68 L696.30 686.57 L697.70 686.46 L699.10 686.34 L700.50 686.21 L701.90 686.09 L703.30 685.95 L704.70 685.82 L706.10 685.67 L707.50 685.53 L708.90 685.37 L710.30 685.22 L711.70 685.05 L713.10 684.89 L714.50 684.71 L715.90 684.54 L717.30 684.35 L718.70 684.16 L720.10 683.97 L721.50 683.77 L722.90 683.56 L724.30 683.35 L725.70 683.14 L727.10 682.91 L728.50 682.69 L729.90 682.45 L731.30 682.21 L732.70 681.96 L734.10 681.71 L735.50 681.45 L736.90 681.19 L738.30 680.92 L739.70 680.64 L741.10 680.36 L742.50 680.07 L743.90 679.77 L745.30 679.47 L746.70 679.16 L748.10 678.84 L749.50 678.52 L750.90 678.19 L752.30 677.85 L753.70 677.51 L755.10 677.16 L756.50 676.80 L757.90 676.43 L759.30 676.06 L760.70 675.68 L762.10 675.29 L763.50 674.90 L764.90 674.50 L766.30 674.09 L767.70 673.67 L769.10 673.25 L770.50 672.81 L771.90 672.37 L773.30 671.93 L774.70 671.47 L776.10 671.01 L777.50 670.54 L778.90 670.06 L780.30 669.57 L781.70 669.07 L783.10 668.57 L784.50 668.06 L785.90 667.54 L787.30 667.01 L788.70 666.47 L790.10 665.92 L791.50 665.37 L792.90 664.81 L794.30 664.24 L795.70 663.66 L797.10 663.07 L798.50 662.47 L799.90 661.87 L801.30 661.26 L802.70 660.64 L804.10 660.01 L805.50 659.38 L806.90 658.74 L808.30 658.09 L809.70 657.44 L811.10 656.78 L812.50 656.11 L813.90 655.44 L815.30 654.75 L816.70 654.07 L818.10 653.37 L819.50 652.68 L820.90 651.97 L822.30 651.26 L823.70 650.54 L825.10 649.82 L826.50 649.09 L827.90 648.36 L829.30 647.62 L830.70 646.87 L832.10 646.12 L833.50 645.36 L834.90 644.60 L836.30 643.83 L837.70 643.05 L839.10 642.27 L840.50 641.48 L841.90 640.69 L843.30 639.89 L844.70 639.08 L846.10 638.27 L847.50 637.46 L848.90 636.63 L850.30 635.81 L851.70 634.97 L853.10 634.13 L854.50 633.28 L855.90 632.43 L857.30 631.58 L858.70 630.71 L860.10 629.84 L861.50 628.97 L862.90 628.09 L864.30 627.20 L865.70 626.31 L867.10 625.41 L868.50 624.51 L869.90 623.60 L871.30 622.68 L872.70 621.76 L874.10 620.84 L875.50 619.91 L876.90 618.97 L878.30 618.03 L879.70 617.08 L881.10 616.13 L882.50 615.17 L883.90 614.20 L885.30 613.23 L886.70 612.26 L888.10 611.28 L889.50 610.29 L890.90 609.30 L892.30 608.30 L893.70 607.30 L895.10 606.29 L896.50 605.28 L897.90 604.26 L899.30 603.24 L900.70 602.21 L902.10 601.18 L903.50 600.14 L904.90 599.10 L906.30 598.05 L907.70 597.00 L909.10 595.94 L910.50 594.88 L911.90 593.81 L913.30 592.73 L914.70 591.65 L916.10 590.57 L917.50 589.48 L918.90 588.39 L920.30 587.29 L921.70 586.19 L923.10 585.08 L924.50 583.97 L925.90 582.85 L927.30 581.73 L928.70 580.60 L930.10 579.47 L931.50 578.33 L932.90 577.19 L934.30 576.04 L935.70 574.89 L937.10 573.74 L938.50 572.58 L939.90 571.41 L941.30 570.24 L942.70 569.07 L944.10 567.89 L945.50 566.71 L946.90 565.52 L948.30 564.33 L949.70 563.14 L951.10 561.94 L952.50 560.73 L953.90 559.52 L955.30 558.31 L956.70 557.09 L958.10 555.87 L959.50 554.64 L960.90 553.41 L962.30 552.18 L963.70 550.94 L965.10 549.69 L966.50 548.45 L967.90 547.19 L969.30 545.94 L970.70 544.68 L972.10 543.41 L973.50 542.15" fill="none" stroke="#8c9bf5" stroke-width="5"/>
<path d="M137.51 692.82 L137.70 692.82 L139.10 692.82 L140.50 692.81 L141.90 692.81 L143.30 692.81 L144.70 692.81 L146.10 692.80 L147.50 692.80 L148.90 692.79 L150.30 692.78 L151.70 692.78 L153.10 692.77 L154.50 692.76 L155.90 692.75 L157.30 692.74 L158.51 692.73 M180.84 692.09 L181.10 692.03 L182.50 691.59 L183.90 691.09 L185.30 690.60 L186.70 690.18 L188.10 689.87 L189.50 689.76 L190.90 689.76 L192.30 689.77 L193.70 689.79 L195.10 689.81 L196.50 689.84 L197.90 689.87 L199.30 689.91 L200.70 689.95 L202.10 690.00 L203.50 690.05 L204.90 690.11 L206.30 690.17 L207.49 690.22 M230.02 688.83 L230.10 688.78 L231.50 687.95 L232.90 687.23 L234.30 686.70 L235.70 686.29 L237.10 685.89 L238.50 685.49 L239.90 685.10 L241.30 684.73 L242.70 684.39 L244.10 684.09 L245.50 683.82 L246.90 683.60 L248.30 683.44 L249.70 683.33 L251.10 683.30 L252.50 683.31 L253.10 683.33 M271.70 683.98 L272.10 683.95 L273.50 683.82 L274.90 683.66 L276.30 683.49 L277.70 683.31 L279.10 683.13 L280.50 682.95 L281.90 682.79 L283.30 682.63 L284.70 682.48 L286.10 682.32 L287.50 682.16 L288.90 682.00 L290.30 681.84 L291.70 681.67 L292.56 681.57 M312.86 679.03 L314.10 678.87 L315.50 678.70 L316.90 678.52 L318.30 678.35 L319.70 678.16 L321.10 677.98 L322.50 677.79 L323.90 677.59 L325.30 677.38 L326.70 677.17 L328.10 676.94 L329.50 676.71 L330.90 676.47 L332.30 676.21 L333.63 675.96 M351.93 671.32 L353.30 670.89 L354.70 670.43 L356.10 669.97 L357.50 669.49 L358.90 669.01 L360.30 668.51 L361.70 668.00 L363.10 667.48 L364.50 666.95 L365.90 666.41 L367.30 665.85 L368.70 665.29 L370.10 664.71 L371.50 664.12 L371.63 664.06 M392.48 653.78 L392.50 653.77 L393.90 652.98 L395.30 652.17 L396.70 651.34 L398.10 650.51 L399.50 649.65 L400.90 648.79 L402.30 647.91 L403.70 647.01 L405.10 646.10 L406.50 645.18 L407.90 644.24 L409.30 643.28 L410.26 642.62 M428.80 628.35 L428.90 628.26 L430.30 627.06 L431.70 625.85 L433.10 624.62 L434.50 623.37 L435.90 622.11 L437.30 620.82 L438.70 619.52 L440.10 618.21 L441.50 616.88 L442.90 615.53 L444.29 614.17 M463.01 594.66 L463.90 593.69 L465.30 592.14 L466.70 590.59 L468.10 589.03 L469.50 587.47 L470.90 585.89 L472.30 584.31 L473.70 582.72 L475.10 581.13 L476.50 579.53 L476.98 578.98 M491.72 561.95 L491.90 561.74 L493.30 560.11 L494.70 558.48 L496.10 556.86 L497.50 555.24 L498.90 553.61 L500.30 552.00 L501.70 550.38 L503.10 548.76 L504.50 547.15 L505.45 546.06 M527.29 521.83 L528.30 520.77 L529.70 519.30 L531.10 517.85 L532.50 516.40 L533.90 514.97 L535.30 513.55 L536.70 512.15 L538.10 510.76 L539.50 509.38 L540.90 508.01 L542.05 506.90 M560.40 490.25 L560.50 490.17 L561.90 488.98 L563.30 487.80 L564.70 486.63 L566.10 485.47 L567.50 484.32 L568.90 483.18 L570.30 482.05 L571.70 480.93 L573.10 479.82 L574.50 478.71 L575.90 477.62 L576.70 477.01 M597.56 461.76 L598.30 461.25 L599.70 460.29 L601.10 459.33 L602.50 458.38 L603.90 457.44 L605.30 456.50 L606.70 455.57 L608.10 454.65 L609.50 453.73 L610.90 452.81 L612.30 451.90 L613.70 451.00 L615.04 450.14 M633.53 438.79 L634.70 438.10 L636.10 437.28 L637.50 436.47 L638.90 435.66 L640.30 434.86 L641.70 434.06 L643.10 433.27 L644.50 432.48 L645.90 431.70 L647.30 430.92 L648.70 430.15 L650.10 429.38 L651.50 428.62 L651.81 428.45 M669.77 419.09 L671.10 418.43 L672.50 417.74 L673.90 417.05 L675.30 416.36 L676.70 415.68 L678.10 415.01 L679.50 414.34 L680.90 413.67 L682.30 413.01 L683.70 412.35 L685.10 411.69 L686.50 411.05 L687.90 410.40 L688.71 410.03 M706.77 402.10 L707.50 401.79 L708.90 401.20 L710.30 400.62 L711.70 400.05 L713.10 399.47 L714.50 398.90 L715.90 398.33 L717.30 397.77 L718.70 397.21 L720.10 396.66 L721.50 396.10 L722.90 395.56 L724.30 395.01 L725.70 394.47 L726.25 394.26 M742.83 388.12 L743.90 387.74 L745.30 387.25 L746.70 386.75 L748.10 386.27 L749.50 385.78 L750.90 385.30 L752.30 384.82 L753.70 384.34 L755.10 383.87 L756.50 383.40 L757.90 382.93 L759.30 382.47 L760.70 382.01 L762.10 381.55 L762.71 381.35 M786.94 373.86 L787.30 373.75 L788.70 373.34 L790.10 372.94 L791.50 372.53 L792.90 372.13 L794.30 371.73 L795.70 371.34 L797.10 370.94 L798.50 370.55 L799.90 370.16 L801.30 369.77 L802.70 369.38 L804.10 369.00 L805.50 368.62 L806.90 368.23 L807.15 368.16 M833.77 361.30 L834.90 361.03 L836.30 360.68 L837.70 360.34 L839.10 360.00 L840.50 359.66 L841.90 359.33 L843.30 358.99 L844.70 358.66 L846.10 358.33 L847.50 357.99 L848.90 357.66 L850.30 357.34 L851.70 357.01 L853.10 356.68 L854.20 356.43 M875.77 351.55 L876.90 351.30 L878.30 350.99 L879.70 350.68 L881.10 350.38 L882.50 350.07 L883.90 349.76 L885.30 349.46 L886.70 349.16 L888.10 348.85 L889.50 348.55 L890.90 348.25 L892.30 347.94 L893.70 347.64 L895.10 347.34 L896.29 347.08 M921.67 341.69 L921.70 341.68 L923.10 341.38 L924.50 341.08 L925.90 340.78 L927.30 340.49 L928.70 340.19 L930.10 339.89 L931.50 339.59 L932.90 339.30 L934.30 339.00 L935.70 338.70 L937.10 338.40 L938.50 338.10 L939.90 337.80 L941.30 337.50 L942.21 337.30 M967.16 331.87 L967.90 331.71 L969.30 331.39 L970.70 331.08 L972.10 330.77 L973.50 330.45 L973.50 330.45" fill="none" stroke="#ff0000" stroke-width="5"/>
<path d="M137.72 692.80 L139.10 692.79 L140.50 692.77 L141.90 692.75 L143.30 692.73 L144.70 692.71 L146.10 692.69 L147.50 692.66 L148.90 692.63 L150.30 692.60 L151.70 692.57 L153.10 692.54 L154.50 692.51 L155.90 692.48 L157.30 692.44 L158.70 692.39 L158.71 692.39 M186.88 690.81 L188.10 690.79 L189.50 690.78 L190.90 690.78 L192.30 690.79 L193.70 690.81 L195.10 690.83 L196.50 690.86 L197.90 690.89 L199.30 690.92 L200.70 690.95 L202.10 690.98 L203.50 691.01 L204.90 691.04 L206.30 691.07 L207.70 691.09 L207.88 691.09 M235.69 689.94 L235.70 689.94 L237.10 689.70 L238.50 689.39 L239.90 689.03 L241.30 688.64 L242.70 688.24 L244.10 687.85 L245.50 687.48 L246.90 687.17 L248.30 686.92 L249.70 686.76 L251.10 686.70 L252.50 686.71 L253.90 686.75 L255.30 686.81 L256.31 686.85 M278.32 683.81 L279.10 683.50 L280.50 682.76 L281.90 681.92 L283.30 681.05 L284.70 680.19 L286.10 679.43 L287.50 678.82 L288.90 678.30 L290.30 677.84 L291.70 677.41 L293.10 676.98 L294.50 676.52 L295.90 676.01 L297.30 675.42 L297.44 675.36 M317.63 662.20 L318.30 661.64 L319.70 660.45 L321.10 659.24 L322.50 658.00 L323.90 656.73 L325.30 655.43 L326.70 654.09 L328.10 652.72 L329.50 651.33 L330.90 649.91 L332.30 648.48 L332.93 647.83 M351.65 628.33 L351.90 628.06 L353.30 626.58 L354.70 625.10 L356.10 623.62 L357.50 622.13 L358.90 620.64 L360.30 619.14 L361.70 617.65 L363.10 616.15 L364.50 614.65 L365.90 613.15 L366.02 613.02 M382.43 595.53 L382.70 595.24 L384.10 593.76 L385.50 592.29 L386.90 590.83 L388.30 589.37 L389.70 587.92 L391.10 586.47 L392.50 585.03 L393.90 583.60 L395.30 582.17 L396.70 580.76 L397.03 580.43 M416.76 561.55 L417.70 560.70 L419.10 559.47 L420.50 558.24 L421.90 557.03 L423.30 555.84 L424.70 554.66 L426.10 553.50 L427.50 552.35 L428.90 551.22 L430.30 550.11 L431.70 549.01 L432.88 548.09 M453.25 533.67 L454.10 533.12 L455.50 532.22 L456.90 531.33 L458.30 530.45 L459.70 529.58 L461.10 528.71 L462.50 527.86 L463.90 527.01 L465.30 526.16 L466.70 525.33 L468.10 524.50 L469.50 523.68 L470.90 522.87 L471.17 522.72 M486.97 514.01 L487.70 513.63 L489.10 512.90 L490.50 512.18 L491.90 511.46 L493.30 510.74 L494.70 510.04 L496.10 509.33 L497.50 508.64 L498.90 507.95 L500.30 507.26 L501.70 506.58 L503.10 505.90 L504.50 505.23 L505.76 504.63 M528.08 494.54 L528.30 494.44 L529.70 493.84 L531.10 493.24 L532.50 492.64 L533.90 492.05 L535.30 491.46 L536.70 490.87 L538.10 490.28 L539.50 489.70 L540.90 489.12 L542.30 488.54 L543.70 487.96 L545.10 487.39 L546.50 486.82 L547.45 486.43 M568.90 477.98 L570.30 477.45 L571.70 476.92 L573.10 476.39 L574.50 475.86 L575.90 475.34 L577.30 474.81 L578.70 474.29 L580.10 473.78 L581.50 473.26 L582.90 472.75 L584.30 472.24 L585.70 471.73 L587.10 471.22 L588.50 470.71 L588.59 470.68 M611.20 462.81 L612.30 462.44 L613.70 461.97 L615.10 461.50 L616.50 461.04 L617.90 460.58 L619.30 460.12 L620.70 459.66 L622.10 459.20 L623.50 458.74 L624.90 458.29 L626.30 457.84 L627.70 457.39 L629.10 456.94 L630.50 456.50 L631.16 456.29 M657.68 448.19 L658.50 447.95 L659.90 447.54 L661.30 447.13 L662.70 446.73 L664.10 446.32 L665.50 445.92 L666.90 445.52 L668.30 445.12 L669.70 444.72 L671.10 444.33 L672.50 443.93 L673.90 443.54 L675.30 443.15 L676.70 442.76 L677.87 442.43 M698.73 436.83 L699.10 436.73 L700.50 436.37 L701.90 436.00 L703.30 435.64 L704.70 435.28 L706.10 434.92 L707.50 434.57 L708.90 434.21 L710.30 433.85 L711.70 433.50 L713.10 433.15 L714.50 432.80 L715.90 432.45 L717.30 432.10 L718.70 431.76 L719.09 431.66 M742.87 425.97 L743.90 425.73 L745.30 425.41 L746.70 425.09 L748.10 424.77 L749.50 424.45 L750.90 424.13 L752.30 423.81 L753.70 423.49 L755.10 423.18 L756.50 422.86 L757.90 422.55 L759.30 422.24 L760.70 421.93 L762.10 421.62 L763.35 421.34 M783.25 417.06 L784.50 416.79 L785.90 416.50 L787.30 416.21 L788.70 415.92 L790.10 415.63 L791.50 415.34 L792.90 415.05 L794.30 414.76 L795.70 414.47 L797.10 414.19 L798.50 413.90 L799.90 413.62 L801.30 413.33 L802.70 413.05 L803.81 412.83 M828.60 407.94 L829.30 407.81 L830.70 407.54 L832.10 407.28 L833.50 407.01 L834.90 406.74 L836.30 406.48 L837.70 406.21 L839.10 405.95 L840.50 405.68 L841.90 405.42 L843.30 405.15 L844.70 404.89 L846.10 404.63 L847.50 404.37 L848.90 404.11 L849.24 404.05 M867.73 400.64 L868.50 400.50 L869.90 400.25 L871.30 399.99 L872.70 399.74 L874.10 399.49 L875.50 399.23 L876.90 398.98 L878.30 398.73 L879.70 398.48 L881.10 398.23 L882.50 397.98 L883.90 397.72 L885.30 397.47 L886.70 397.22 L888.10 396.97 L888.40 396.92 M922.76 390.86 L923.10 390.80 L924.50 390.56 L925.90 390.31 L927.30 390.07 L928.70 389.82 L930.10 389.58 L931.50 389.33 L932.90 389.09 L934.30 388.84 L935.70 388.60 L937.10 388.35 L938.50 388.11 L939.90 387.86 L941.30 387.62 L942.70 387.37 L943.44 387.24 M964.88 383.48 L965.10 383.44 L966.50 383.20 L967.90 382.95 L969.30 382.70 L970.70 382.46 L972.10 382.21 L973.50 381.96 L973.50 381.96" fill="none" stroke="#fa9696" stroke-width="5"/>
<path d="M262.45 690.55 L263.70 690.44 L265.10 690.32 L266.50 690.21 L267.90 690.10 L269.30 689.99 L270.70 689.89 L272.10 689.79 L273.50 689.70 L274.90 689.61 L276.30 689.52 L277.70 689.44 L279.10 689.36 L280.50 689.28 L281.90 689.21 L283.30 689.14 L283.40 689.13 M303.35 688.20 L304.30 688.16 L305.70 688.09 L307.10 688.02 L308.50 687.95 L309.90 687.87 L311.30 687.80 L312.70 687.72 L314.10 687.64 L315.50 687.56 L316.90 687.49 L318.30 687.42 L319.70 687.35 L321.10 687.28 L322.50 687.21 L323.90 687.15 L324.32 687.13 M340.73 686.41 L342.10 686.35 L343.50 686.28 L344.90 686.21 L346.30 686.14 L347.70 686.06 L349.10 685.97 L350.50 685.88 L351.90 685.77 L353.30 685.66 L354.70 685.55 L356.10 685.42 L357.50 685.28 L358.90 685.14 L360.30 684.99 L361.67 684.83 M386.07 681.10 L386.90 680.95 L388.30 680.69 L389.70 680.43 L391.10 680.16 L392.50 679.89 L393.90 679.61 L395.30 679.33 L396.70 679.05 L398.10 678.76 L399.50 678.47 L400.90 678.17 L402.30 677.87 L403.70 677.57 L405.10 677.26 L406.50 676.95 L406.65 676.92 M430.49 671.11 L431.70 670.79 L433.10 670.42 L434.50 670.05 L435.90 669.67 L437.30 669.29 L438.70 668.91 L440.10 668.53 L441.50 668.14 L442.90 667.75 L444.30 667.36 L445.70 666.96 L447.10 666.57 L448.50 666.17 L449.90 665.77 L450.73 665.53 M473.98 658.54 L475.10 658.20 L476.50 657.76 L477.90 657.32 L479.30 656.88 L480.70 656.44 L482.10 656.00 L483.50 655.55 L484.90 655.11 L486.30 654.66 L487.70 654.21 L489.10 653.76 L490.50 653.31 L491.90 652.86 L493.30 652.41 L494.00 652.19 M519.66 643.78 L519.90 643.70 L521.30 643.23 L522.70 642.77 L524.10 642.31 L525.50 641.85 L526.90 641.38 L528.30 640.92 L529.70 640.46 L531.10 639.99 L532.50 639.53 L533.90 639.07 L535.30 638.61 L536.70 638.14 L538.10 637.68 L539.50 637.22 L539.60 637.19 M562.76 629.47 L563.30 629.29 L564.70 628.81 L566.10 628.34 L567.50 627.86 L568.90 627.39 L570.30 626.91 L571.70 626.43 L573.10 625.95 L574.50 625.47 L575.90 624.99 L577.30 624.50 L578.70 624.02 L580.10 623.53 L581.50 623.04 L582.62 622.65 M600.60 616.21 L601.10 616.03 L602.50 615.51 L603.90 614.99 L605.30 614.47 L606.70 613.95 L608.10 613.42 L609.50 612.90 L610.90 612.37 L612.30 611.83 L613.70 611.30 L615.10 610.76 L616.50 610.22 L617.90 609.68 L619.30 609.13 L620.23 608.76 M648.26 597.15 L648.70 596.96 L650.10 596.34 L651.50 595.72 L652.90 595.09 L654.30 594.46 L655.70 593.83 L657.10 593.19 L658.50 592.55 L659.90 591.91 L661.30 591.26 L662.70 590.61 L664.10 589.95 L665.50 589.29 L666.90 588.62 L667.35 588.41 M686.53 578.81 L687.90 578.09 L689.30 577.35 L690.70 576.61 L692.10 575.86 L693.50 575.10 L694.90 574.34 L696.30 573.58 L697.70 572.81 L699.10 572.03 L700.50 571.25 L701.90 570.46 L703.30 569.67 L704.70 568.87 L704.95 568.73 M723.70 557.54 L724.30 557.17 L725.70 556.30 L727.10 555.42 L728.50 554.54 L729.90 553.65 L731.30 552.76 L732.70 551.86 L734.10 550.95 L735.50 550.04 L736.90 549.13 L738.30 548.21 L739.70 547.29 L741.10 546.36 L741.36 546.19 M758.95 534.09 L759.30 533.84 L760.70 532.84 L762.10 531.84 L763.50 530.83 L764.90 529.82 L766.30 528.80 L767.70 527.78 L769.10 526.75 L770.50 525.72 L771.90 524.68 L773.30 523.64 L774.70 522.60 L775.91 521.70 M793.37 508.20 L794.30 507.46 L795.70 506.35 L797.10 505.23 L798.50 504.10 L799.90 502.97 L801.30 501.84 L802.70 500.70 L804.10 499.55 L805.50 498.41 L806.90 497.25 L808.30 496.10 L809.67 494.96 M826.58 480.56 L827.90 479.41 L829.30 478.19 L830.70 476.96 L832.10 475.72 L833.50 474.49 L834.90 473.24 L836.30 472.00 L837.70 470.74 L839.10 469.49 L840.50 468.23 L841.90 466.96 L842.28 466.62 M861.31 449.10 L861.50 448.92 L862.90 447.61 L864.30 446.30 L865.70 444.99 L867.10 443.67 L868.50 442.36 L869.90 441.04 L871.30 439.72 L872.70 438.40 L874.10 437.07 L875.50 435.75 L876.60 434.70 M894.99 417.25 L895.10 417.15 L896.50 415.82 L897.90 414.49 L899.30 413.16 L900.70 411.84 L902.10 410.51 L903.50 409.19 L904.90 407.86 L906.30 406.54 L907.70 405.22 L909.10 403.90 L910.24 402.82 M926.84 387.36 L927.30 386.94 L928.70 385.65 L930.10 384.37 L931.50 383.09 L932.90 381.81 L934.30 380.54 L935.70 379.27 L937.10 378.00 L938.50 376.74 L939.90 375.49 L941.30 374.23 L942.40 373.25 M964.60 354.08 L965.10 353.66 L966.50 352.50 L967.90 351.35 L969.30 350.20 L970.70 349.06 L972.10 347.93 L973.50 346.80 L973.50 346.80" fill="none" stroke="#0000f5" stroke-width="5"/>
<path d="M284.00 690.66 L284.70 690.65 L286.10 690.63 L287.50 690.60 L288.90 690.58 L290.30 690.56 L291.70 690.53 L293.10 690.50 L294.50 690.47 L295.90 690.44 L297.30 690.40 L298.70 690.37 L300.10 690.33 L301.50 690.30 L302.90 690.27 L304.30 690.23 L305.00 690.22 M326.97 689.59 L328.10 689.54 L329.50 689.49 L330.90 689.43 L332.30 689.38 L333.70 689.31 L335.10 689.25 L336.50 689.18 L337.90 689.11 L339.30 689.03 L340.70 688.94 L342.10 688.85 L343.50 688.76 L344.90 688.66 L346.30 688.55 L347.70 688.44 L347.93 688.42 M377.77 685.33 L378.50 685.24 L379.90 685.06 L381.30 684.86 L382.70 684.65 L384.10 684.42 L385.50 684.18 L386.90 683.91 L388.30 683.63 L389.70 683.32 L391.10 682.98 L392.50 682.62 L393.90 682.24 L395.30 681.84 L396.70 681.41 L398.10 680.97 L398.26 680.92 M416.16 673.49 L416.30 673.42 L417.70 672.71 L419.10 671.97 L420.50 671.21 L421.90 670.43 L423.30 669.62 L424.70 668.80 L426.10 667.95 L427.50 667.08 L428.90 666.19 L430.30 665.27 L431.70 664.33 L433.10 663.37 L434.12 662.65 M454.93 645.91 L455.50 645.40 L456.90 644.15 L458.30 642.89 L459.70 641.62 L461.10 640.33 L462.50 639.04 L463.90 637.74 L465.30 636.43 L466.70 635.11 L468.10 633.79 L469.50 632.46 L470.35 631.65 M491.51 611.31 L491.90 610.94 L493.30 609.62 L494.70 608.30 L496.10 606.98 L497.50 605.68 L498.90 604.38 L500.30 603.09 L501.70 601.81 L503.10 600.54 L504.50 599.27 L505.90 598.02 L506.95 597.08 M524.46 581.81 L525.50 580.92 L526.90 579.71 L528.30 578.51 L529.70 577.31 L531.10 576.11 L532.50 574.91 L533.90 573.71 L535.30 572.51 L536.70 571.30 L538.10 570.10 L539.50 568.89 L540.39 568.12 M556.35 554.25 L557.70 553.06 L559.10 551.83 L560.50 550.60 L561.90 549.36 L563.30 548.13 L564.70 546.89 L566.10 545.64 L567.50 544.40 L568.90 543.15 L570.30 541.90 L571.70 540.65 L572.07 540.32 M588.89 524.99 L589.90 524.05 L591.30 522.75 L592.70 521.45 L594.10 520.14 L595.50 518.82 L596.90 517.51 L598.30 516.18 L599.70 514.86 L601.10 513.53 L602.50 512.19 L603.90 510.85 L604.17 510.59 M623.46 491.62 L623.50 491.58 L624.90 490.16 L626.30 488.74 L627.70 487.31 L629.10 485.88 L630.50 484.44 L631.90 482.99 L633.30 481.54 L634.70 480.08 L636.10 478.61 L637.50 477.14 L638.07 476.54 M655.82 457.28 L657.10 455.85 L658.50 454.27 L659.90 452.69 L661.30 451.10 L662.70 449.51 L664.10 447.90 L665.50 446.29 L666.90 444.67 L668.30 443.04 L669.70 441.41 L671.10 439.76 L672.50 438.11 L673.90 436.45 L675.30 434.78 L676.70 433.10 L678.10 431.42 L679.50 429.72 L680.90 428.02 L681.19 427.67 M697.27 407.45 L697.70 406.89 L699.10 405.07 L700.50 403.24 L701.90 401.40 L703.30 399.55 L704.70 397.69 L706.10 395.82 L707.50 393.94 L708.90 392.06 L709.91 390.69 M723.96 371.31 L724.30 370.84 L725.70 368.88 L727.10 366.92 L728.50 364.95 L729.90 362.98 L731.30 361.00 L732.70 359.03 L734.10 357.05 L735.50 355.07 L736.12 354.19 M752.78 330.60 L753.70 329.31 L755.10 327.34 L756.50 325.38 L757.90 323.42 L759.30 321.46 L760.70 319.51 L762.10 317.56 L763.50 315.62 L764.90 313.69 L765.01 313.53 M780.07 293.19 L780.30 292.88 L781.70 291.04 L783.10 289.21 L784.50 287.39 L785.90 285.59 L787.30 283.79 L788.70 282.01 L790.10 280.24 L791.50 278.48 L792.90 276.73 L792.98 276.63 M809.81 256.39 L811.10 254.89 L812.50 253.28 L813.90 251.67 L815.30 250.07 L816.70 248.48 L818.10 246.89 L819.50 245.31 L820.90 243.74 L822.30 242.18 L823.69 240.63 M842.16 220.58 L843.30 219.38 L844.70 217.89 L846.10 216.41 L847.50 214.93 L848.90 213.46 L850.30 211.98 L851.70 210.51 L853.10 209.05 L854.50 207.58 L855.90 206.12 L856.63 205.36 M874.21 187.37 L875.50 186.08 L876.90 184.68 L878.30 183.29 L879.70 181.90 L881.10 180.52 L882.50 179.14 L883.90 177.77 L885.30 176.41 L886.70 175.05 L888.10 173.70 L889.19 172.65 M905.86 157.14 L906.30 156.75 L907.70 155.50 L909.10 154.26 L910.50 153.03 L911.90 151.80 L913.30 150.58 L914.70 149.37 L916.10 148.17 L917.50 146.98 L918.90 145.80 L920.30 144.63 L921.70 143.47 L921.76 143.42 M942.64 127.28 L942.70 127.24 L944.10 126.25 L945.50 125.27 L946.90 124.30 L948.30 123.34 L949.70 122.39 L951.10 121.46 L952.50 120.53 L953.90 119.62 L955.30 118.73 L956.70 117.84 L958.10 116.97 L959.50 116.11 L960.16 115.71" fill="none" stroke="#8c9bf5" stroke-width="5"/>
</g>
<line x1="157" y1="54.2" x2="236" y2="54.2" stroke="#ff0000" stroke-width="5"/>
<text transform="translate(246 67.00) scale(1.008 1.06)" font-size="35">TiO<tspan font-size="23.5" dy="9.2">2</tspan><tspan dy="-9.2"> - pH 7</tspan></text>
<line x1="157" y1="105.3" x2="236" y2="105.3" stroke="#fa9696" stroke-width="5"/>
<text transform="translate(246 118.10) scale(1.008 1.06)" font-size="35">TiO<tspan font-size="23.5" dy="9.2">2</tspan><tspan dy="-9.2"> - pH 2</tspan></text>
<line x1="157" y1="156.4" x2="236" y2="156.4" stroke="#0000f5" stroke-width="5"/>
<text transform="translate(246 169.20) scale(1.008 1.06)" font-size="35">BiVO<tspan font-size="23.5" dy="9.2">4</tspan><tspan dy="-9.2"> - pH 7</tspan></text>
<line x1="157" y1="207.5" x2="236" y2="207.5" stroke="#8c9bf5" stroke-width="5"/>
<text transform="translate(246 220.30) scale(1.008 1.06)" font-size="35">BiVO<tspan font-size="23.5" dy="9.2">4</tspan><tspan dy="-9.2"> - pH 2</tspan></text>
<text x="447" y="792" font-size="35"><tspan font-weight="bold" font-style="italic">E</tspan> / V <tspan font-style="italic">vs.</tspan> RHE</text>
<text transform="translate(31.5 419.5) rotate(-90) scale(1.025 1)" font-size="35"><tspan font-weight="bold" font-style="italic">j</tspan> / mA cm<tspan font-size="23" dy="-14">-2</tspan></text>
</svg>
</body></html>
